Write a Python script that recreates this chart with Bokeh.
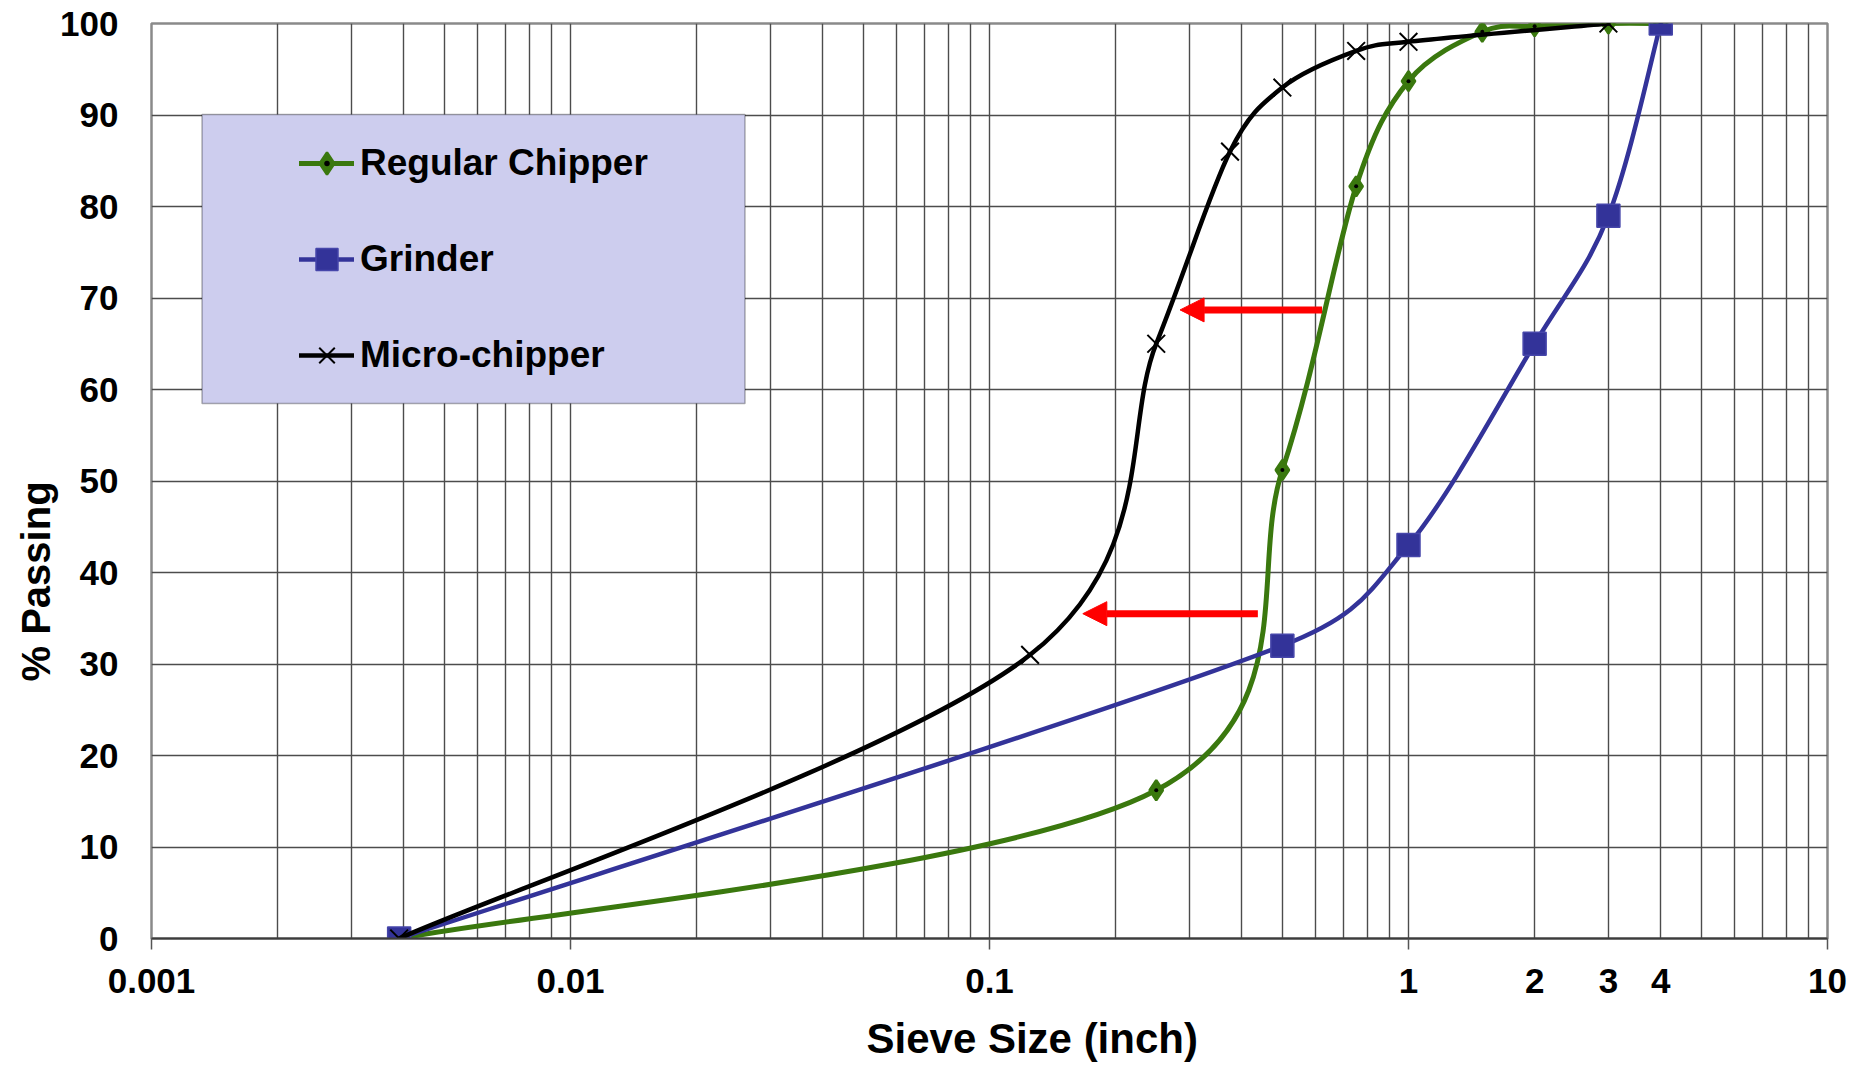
import numpy as np
from bokeh.plotting import figure
from bokeh.models import (Range1d, FixedTicker, CustomJSTickFormatter, Legend, LegendItem,
                          Title, Arrow, NormalHead, BoxAnnotation, ColumnDataSource)
from bokeh.embed import file_html
from bokeh.resources import INLINE

# ---------------- data ----------------
regular_x = [0.0039, 0.25, 0.5, 0.75, 1.0, 1.5, 2.0, 3.0, 4.0]
regular_y = [0, 16.2, 51.2, 82.2, 93.7, 99.1, 99.7, 100, 100]

grinder_x = [0.0039, 0.5, 1.0, 2.0, 3.0, 4.0]
grinder_y = [0, 32, 43, 65, 79, 100]

micro_x = [0.0039, 0.125, 0.25, 0.375, 0.5, 0.75, 1.0, 3.0]
micro_y = [0, 31, 65, 86, 93, 97, 98, 100]

series_names = ["Regular Chipper", "Grinder", "Micro-chipper"]

x_tick_vals = [0.001, 0.01, 0.1, 1, 2, 3, 4, 10]
x_tick_labels = ["0.001", "0.01", "0.1", "1", "2", "3", "4", "10"]
x_decades = [0.001, 0.01, 0.1, 1, 10]
y_tick_vals = list(range(0, 101, 10))

arrow_from = [0.622, 0.437]
arrow_to = [0.285, 0.167]
arrow_y = [68.7, 35.5]

x_title = "Sieve Size (inch)"
y_title = "% Passing"

# ---------------- styling ----------------
FONT = "Liberation Sans"
GREEN = "#3A780E"
BLUE = "#333399"
BLACK = "#000000"
GRID = "#4c4c4c"

# frame geometry (pixels), used for the screen-space smoothing of the lines
FRAME_L, FRAME_T, FRAME_R, FRAME_B = 151, 23, 1827, 938
FIG_W, FIG_H = 1851, 1080
PX_PER_DECADE = (FRAME_R - FRAME_L) / 4.0
PX_PER_UNIT = (FRAME_B - FRAME_T) / 100.0


def smooth_source(xs, ys, cap=0.5):
    """Excel-like smoothed line: cubic Bezier segments (Catmull-Rom, tension 1/6)
    computed in screen-proportional space (log x), control arm capped to a fraction
    of the segment chord; control points handed to the glyph in data units."""
    u = np.log10(np.asarray(xs, dtype=float)) * PX_PER_DECADE
    v = np.asarray(ys, dtype=float) * PX_PER_UNIT
    n = len(u)
    rows = dict(x0=[], y0=[], x1=[], y1=[], cx0=[], cy0=[], cx1=[], cy1=[])
    for i in range(n - 1):
        ip, inn = max(i - 1, 0), min(i + 2, n - 1)
        chord = np.hypot(u[i + 1] - u[i], v[i + 1] - v[i])
        t0 = np.array([u[i + 1] - u[ip], v[i + 1] - v[ip]]) / 6.0
        t1 = np.array([u[inn] - u[i], v[inn] - v[i]]) / 6.0
        for t in (t0, t1):
            ln = np.hypot(*t)
            if ln > cap * chord > 0:
                t *= cap * chord / ln
        c0 = (u[i] + t0[0], v[i] + t0[1])
        c1 = (u[i + 1] - t1[0], v[i + 1] - t1[1])
        rows["x0"].append(10 ** (u[i] / PX_PER_DECADE))
        rows["y0"].append(v[i] / PX_PER_UNIT)
        rows["x1"].append(10 ** (u[i + 1] / PX_PER_DECADE))
        rows["y1"].append(v[i + 1] / PX_PER_UNIT)
        rows["cx0"].append(10 ** (c0[0] / PX_PER_DECADE))
        rows["cy0"].append(c0[1] / PX_PER_UNIT)
        rows["cx1"].append(10 ** (c1[0] / PX_PER_DECADE))
        rows["cy1"].append(c1[1] / PX_PER_UNIT)
    return ColumnDataSource(rows)


p = figure(width=FIG_W, height=FIG_H, x_axis_type="log",
           x_range=Range1d(0.001, 10), y_range=Range1d(0, 100),
           output_backend="svg", toolbar_location=None,
           min_border_left=FRAME_L, min_border_right=FIG_W - FRAME_R,
           min_border_top=FRAME_T, min_border_bottom=FIG_H - FRAME_B)
p.background_fill_color = "white"
p.border_fill_color = "white"
p.outline_line_color = "#8a8a8a"
p.outline_line_width = 2.5

# axes
xa = p.xaxis[0]
ya = p.yaxis[0]
xa.ticker = FixedTicker(ticks=x_tick_vals, minor_ticks=x_decades)
xa.formatter = CustomJSTickFormatter(code="return String(tick);")
xa.major_label_overrides = dict(zip(x_tick_vals, x_tick_labels))
ya.ticker = FixedTicker(ticks=y_tick_vals, minor_ticks=[])
for ax in (xa, ya):
    ax.major_label_text_font = FONT
    ax.major_label_text_font_style = "bold"
    ax.major_label_text_font_size = "35px"
    ax.major_label_text_color = "black"
    ax.major_tick_out = 0
    ax.major_tick_in = 0
    ax.minor_tick_in = 0
xa.minor_tick_out = 11
xa.minor_tick_line_color = "#555555"
xa.minor_tick_line_width = 1.5
xa.axis_line_color = "#3c3c3c"
xa.axis_line_width = 2
xa.major_label_standoff = 19
ya.minor_tick_out = 0
ya.axis_line_color = None
ya.major_label_standoff = 33

# grid: every 1..9 x decade vertically, every 10 horizontally
grid_x = [m * d for d in x_decades[:-1] for m in range(1, 10)] + [x_decades[-1]]
p.xgrid.ticker = FixedTicker(ticks=grid_x)
p.ygrid.ticker = FixedTicker(ticks=y_tick_vals)
for g in (p.xgrid, p.ygrid):
    g.grid_line_color = GRID
    g.grid_line_width = 1.4

# ---------------- series ----------------
bz = dict(x0="x0", y0="y0", x1="x1", y1="y1", cx0="cx0", cy0="cy0", cx1="cx1", cy1="cy1")

reg_line = p.bezier(source=smooth_source(regular_x, regular_y), line_color=GREEN,
                    line_width=5, line_cap="round", **bz)
reg_mk = p.scatter(regular_x, regular_y, marker="diamond", size=20,
                   fill_color=GREEN, line_color=GREEN, line_width=2.5)
reg_dot = p.scatter(regular_x, regular_y, marker="dot", size=16, line_color="black")

gr_line = p.bezier(source=smooth_source(grinder_x, grinder_y), line_color=BLUE,
                   line_width=4.5, line_cap="round", **bz)
gr_mk = p.scatter(grinder_x, grinder_y, marker="square", size=23,
                  fill_color=BLUE, line_color="#4646aa", line_width=1.5)

mc_line = p.bezier(source=smooth_source(micro_x, micro_y), line_color=BLACK,
                   line_width=4.5, line_cap="round", **bz)
mc_mk = p.scatter(micro_x, micro_y, marker="x", size=25, line_color=BLACK, line_width=2)

# ---------------- arrows ----------------
for xs, xe, yy in zip(arrow_from, arrow_to, arrow_y):
    p.add_layout(Arrow(end=NormalHead(size=24, fill_color="red", line_color="red", line_width=1),
                       x_start=xs, y_start=yy, x_end=xe, y_end=yy,
                       line_color="red", line_width=7))

# ---------------- legend ----------------
box = BoxAnnotation(left=0.00132, right=0.02609, top=90.05, bottom=58.47,
                    fill_color="#CDCDEE", fill_alpha=1.0,
                    line_color="black", line_width=1.5)
p.add_layout(box)

legend = Legend(items=[
    LegendItem(label=series_names[0], renderers=[reg_line, reg_mk, reg_dot]),
    LegendItem(label=series_names[1], renderers=[gr_line, gr_mk]),
    LegendItem(label=series_names[2], renderers=[mc_line, mc_mk]),
], location=(130, 535), orientation="vertical", margin=0, padding=18, spacing=36,
    glyph_width=55, glyph_height=60, label_height=60, label_standoff=6,
    label_text_font=FONT, label_text_font_style="bold", label_text_font_size="37px",
    label_text_color="black", background_fill_alpha=0, border_line_alpha=0)
p.add_layout(legend)

# ---------------- axis titles ----------------
p.add_layout(Title(text=x_title, align="left", offset=715, standoff=35,
                   text_font=FONT, text_font_style="bold", text_font_size="42px",
                   text_color="black"), "below")
p.add_layout(Title(text=y_title, align="left", offset=257, standoff=0,
                   text_font=FONT, text_font_style="bold", text_font_size="40px",
                   text_color="black"), "left")

open("out.html", "w").write(file_html(p, INLINE))
